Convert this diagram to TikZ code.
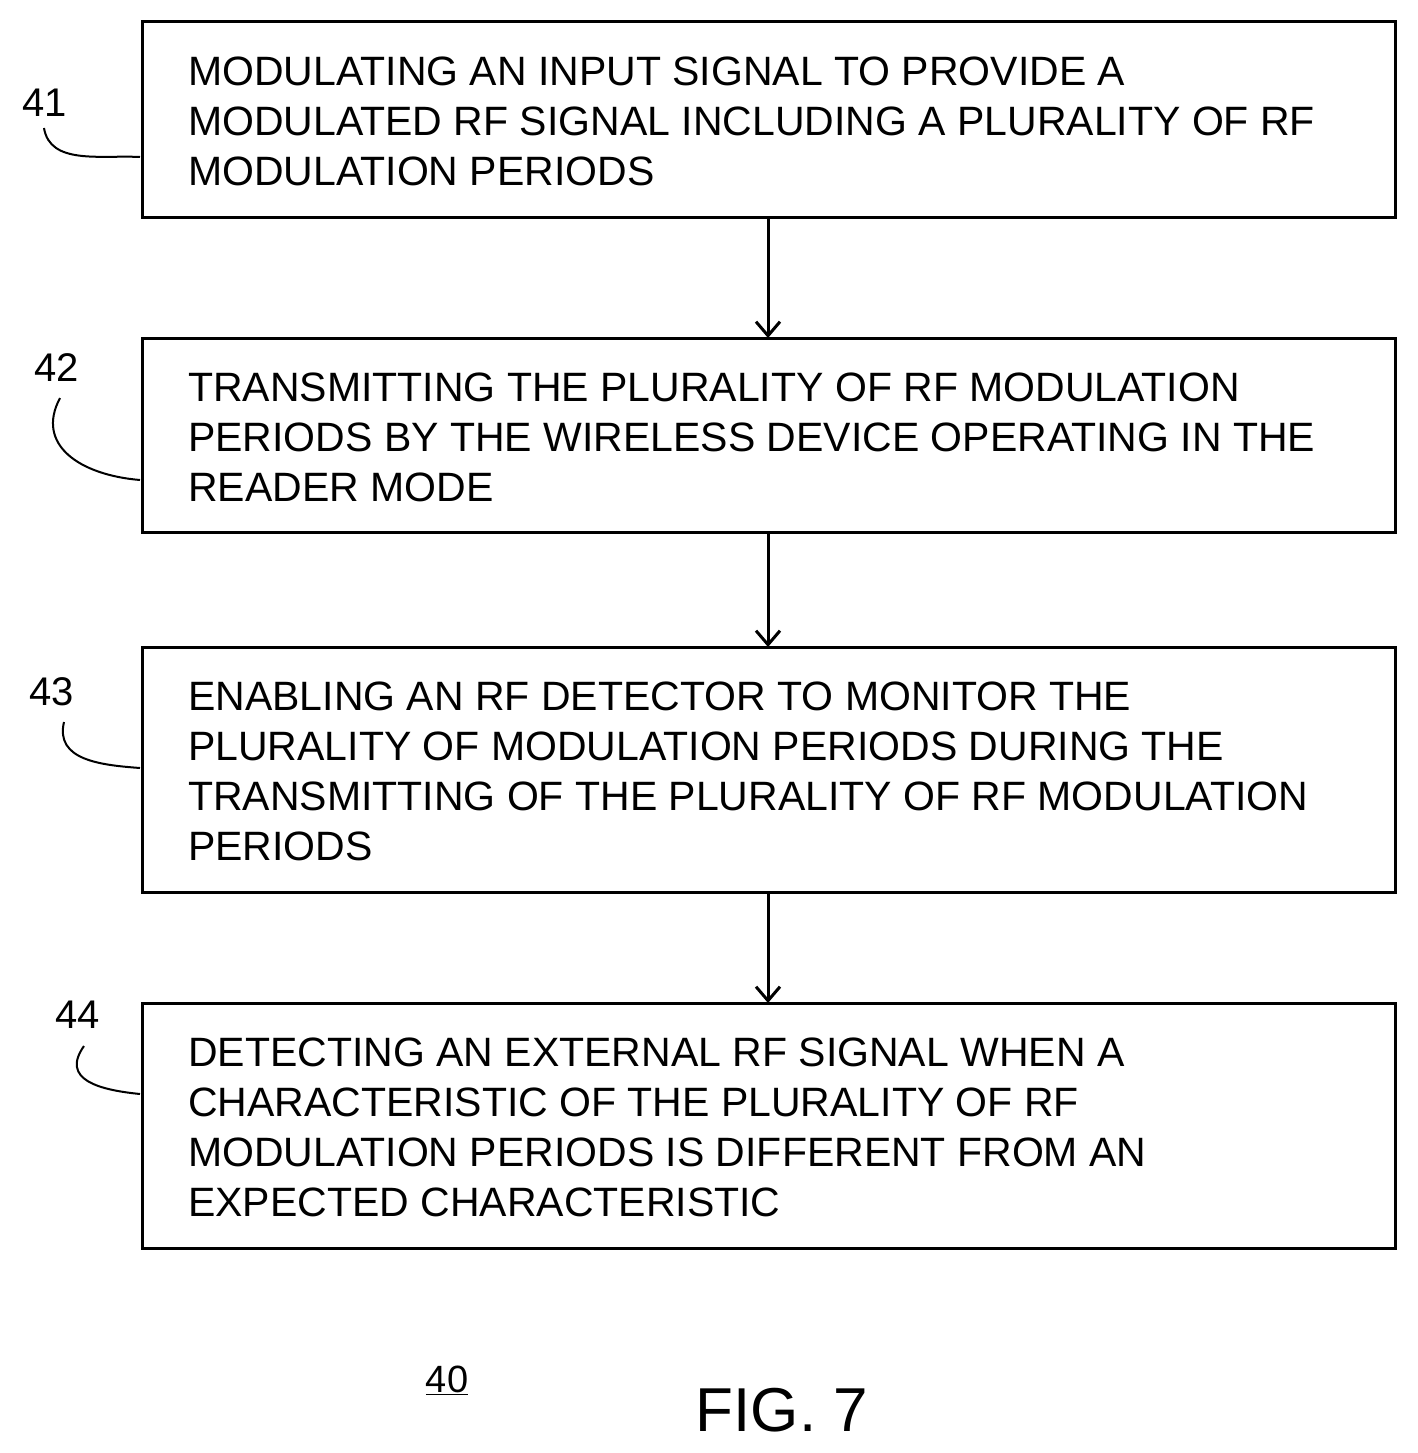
\documentclass[tikz,border=0pt]{standalone}
\usepackage{fontspec}
\setmainfont{Liberation Sans}
\usetikzlibrary{arrows.meta}
\begin{document}
\begin{tikzpicture}[x=1pt,y=-1pt,
  box/.style={draw,line width=3pt},
  txt/.style={anchor=north west,inner sep=0pt,align=left,font=\fontsize{41}{50}\selectfont},
  lbl/.style={font=\fontsize{40}{48}\selectfont,inner sep=0pt},
  arr/.style={line width=3pt,-{Straight Barb[length=14pt,width=24pt,line width=3pt]}},
  lead/.style={line width=2pt}]
\useasboundingbox (0,0) rectangle (1418,1453);
\draw[box] (142,22) rectangle (1395,217);
\draw[box] (142,338) rectangle (1395,532);
\draw[box] (142,647) rectangle (1395,892);
\draw[box] (142,1003) rectangle (1395,1248);
\coordinate (b1) at (768,217); \coordinate (t2) at (768,338);
\coordinate (b2) at (768,532); \coordinate (t3) at (768,647);
\coordinate (b3) at (768,892); \coordinate (t4) at (768,1003);
\draw[arr] (b1) -- (t2);
\draw[arr] (b2) -- (t3);
\draw[arr] (b3) -- (t4);
\node[txt] (x1) at (188,57) {MODULATING AN INPUT SIGNAL TO PROVIDE A\\MODULATED RF SIGNAL INCLUDING A PLURALITY OF RF\\MODULATION PERIODS};
\node[txt] (x2) at (188,373) {TRANSMITTING THE PLURALITY OF RF MODULATION\\PERIODS BY THE WIRELESS DEVICE OPERATING IN THE\\READER MODE};
\node[txt] (x3) at (188,682) {ENABLING AN RF DETECTOR TO MONITOR THE\\PLURALITY OF MODULATION PERIODS DURING THE\\TRANSMITTING OF THE PLURALITY OF RF MODULATION\\PERIODS};
\node[txt] (x4) at (188,1038) {DETECTING AN EXTERNAL RF SIGNAL WHEN A\\CHARACTERISTIC OF THE PLURALITY OF RF\\MODULATION PERIODS IS DIFFERENT FROM AN\\EXPECTED CHARACTERISTIC};
\node[lbl] (n41) at (45,103) {41};
\node[lbl] (n42) at (57,368) {42};
\node[lbl] (n43) at (52,692) {43};
\node[lbl] (n44) at (78,1015) {44};
\draw[lead] (44,128) .. controls (50,165) and (100,155) .. (140,157);
\draw[lead] (60,398) .. controls (35,445) and (80,475) .. (140,480);
\draw[lead] (64,722) .. controls (55,760) and (100,765) .. (140,768);
\draw[lead] (84,1046) .. controls (60,1080) and (100,1090) .. (140,1094);
\node[lbl,font=\fontsize{38}{46}\selectfont] (n40) at (447,1380) {\underline{40}};
\node[lbl,font=\fontsize{62}{70}\selectfont] (fig) at (782,1410) {FIG. 7};
\end{tikzpicture}
\end{document}
